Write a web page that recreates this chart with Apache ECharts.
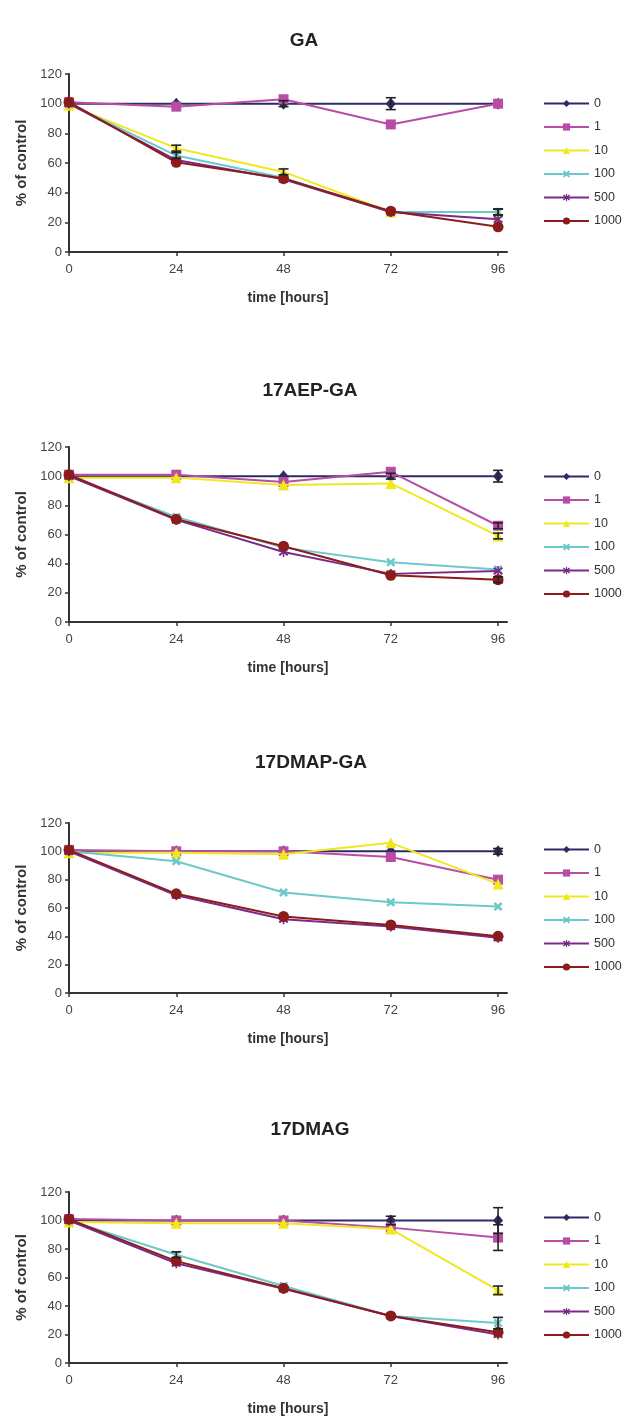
<!DOCTYPE html>
<html>
<head>
<meta charset="utf-8">
<script src="https://cdn.jsdelivr.net/npm/echarts@6/dist/echarts.min.js"></script>
<style>
html,body{margin:0;padding:0;background:#fff;}
#chart{width:635px;height:1419px;}
</style>
</head>
<body>
<div id="chart"></div>
<script>
// ---------- DATA ----------
const titles = ['GA', '17AEP-GA', '17DMAP-GA', '17DMAG'];
const seriesNames = ['0', '1', '10', '100', '500', '1000'];
const times = [0, 24, 48, 72, 96];
const xTickLabels = [0, 24, 48, 72, 96];
const yTicks = [0, 20, 40, 60, 80, 100, 120];

// values per series (rows: 0,1,10,100,500,1000) at times
const GA_values = [
  [100, 100, 100, 100, 100],
  [101, 98, 103, 86, 100],
  [99, 70, 54, 27, 27],
  [100, 65, 50, 27, 27],
  [100, 62, 49, 27, 22],
  [101, 60.5, 49.5, 27.5, 17]
];
const GA_errors = [
  [1, 1, 2, 4, 1],
  [1, 1, 1, 1, 1],
  [1, 2, 2, 1, 2],
  [1, 2, 1, 1, 2],
  [1, 1, 1, 1, 1],
  [1, 1, 1, 1, 1]
];
const AEP_values = [
  [100, 100, 100, 100, 100],
  [101, 101, 96, 103, 66],
  [99, 99, 94, 95, 59],
  [100, 72, 51, 41, 36],
  [100, 70, 48, 33, 35],
  [101, 70.5, 52, 32, 29]
];
const AEP_errors = [
  [1, 1, 1, 2, 4],
  [1, 1, 1, 1, 2],
  [1, 1, 1, 1, 2],
  [1, 1, 1, 1, 1],
  [1, 1, 1, 1, 1],
  [1, 1, 1, 1, 2]
];
const DMAP_values = [
  [100, 100, 100, 100, 100],
  [101, 100, 100, 96, 80],
  [99, 99, 98, 106, 77],
  [100, 93, 71, 64, 61],
  [100, 69, 52, 47, 39],
  [101, 70, 54, 48, 40]
];
const DMAP_errors = [
  [1, 1, 1, 1, 2],
  [1, 1, 1, 1, 1],
  [1, 1, 1, 1, 1],
  [1, 1, 1, 1, 1],
  [1, 1, 1, 1, 1],
  [1, 1, 1, 1, 1]
];
const DMAG_values = [
  [100, 100, 100, 100, 100],
  [101, 100, 100, 95, 88],
  [99, 98, 98, 94, 51],
  [100, 76, 54, 33, 28],
  [100, 70, 52, 33, 20],
  [101, 71.5, 52.5, 33, 21.5]
];
const DMAG_errors = [
  [1, 1, 1, 3, 9],
  [1, 1, 1, 1, 9],
  [1, 1, 1, 1, 3],
  [1, 2, 1, 1, 4],
  [1, 1, 1, 1, 1],
  [1, 1, 1, 1, 1]
];
const panelValues = [GA_values, AEP_values, DMAP_values, DMAG_values];
const panelErrors = [GA_errors, AEP_errors, DMAP_errors, DMAG_errors];

// ---------- STYLE ----------
const FONT = '"Liberation Sans", Arial, sans-serif';
const colors = ['#2D2A66', '#B84DA6', '#F0E81E', '#6CC9C9', '#7A2A8A', '#8C1C1C'];
const xPath = 'path://M0,2 L2,0 L5,3 L8,0 L10,2 L7,5 L10,8 L8,10 L5,7 L2,10 L0,8 L3,5 Z';
const starPath = 'path://M0,2.5 L1.5,1 L5,4 L8.5,1 L10,2.5 L6.5,5 L10,7.5 L8.5,9 L5,6 L1.5,9 L0,7.5 L3.5,5 Z M4.2,0 L5.8,0 L5.8,10 L4.2,10 Z';
const symbols = ['diamond', 'rect', 'triangle', xPath, starPath, 'circle'];
const symbolSizes = [[10, 12], 10, 11, 9, 10, 11];

const layout = [
  {top: 74, height: 178, titleY: 42, legendTop: 97, titleX: 304},
  {top: 447, height: 175, titleY: 392, legendTop: 470, titleX: 310},
  {top: 823, height: 170, titleY: 764, legendTop: 843, titleX: 311},
  {top: 1192, height: 171, titleY: 1131, legendTop: 1211, titleX: 310}
];

const option = {
  backgroundColor: '#fff',
  animation: false,
  textStyle: {fontFamily: FONT},
  title: [], legend: [], grid: [], xAxis: [], yAxis: [], series: []
};

function errRender(params, api) {
  const x = api.value(0), v = api.value(1), e = api.value(2);
  if (!e || e < 1.5) return null;
  const t = api.coord([x, v + e]);
  const b = api.coord([x, v - e]);
  const hw = 5;
  const st = {stroke: '#222', lineWidth: 1.6};
  return {
    type: 'group',
    children: [
      {type: 'line', shape: {x1: t[0], y1: t[1], x2: b[0], y2: b[1]}, style: st},
      {type: 'line', shape: {x1: t[0] - hw, y1: t[1], x2: t[0] + hw, y2: t[1]}, style: st},
      {type: 'line', shape: {x1: b[0] - hw, y1: b[1], x2: b[0] + hw, y2: b[1]}, style: st}
    ]
  };
}

layout.forEach((L, p) => {
  option.title.push({
    text: titles[p], left: L.titleX, top: L.titleY - 11, textAlign: 'center', padding: 0,
    textStyle: {fontSize: 19, fontWeight: 'bold', color: '#222', fontFamily: FONT}
  });
  option.grid.push({left: 69, width: 438, top: L.top, height: L.height});
  option.xAxis.push({
    type: 'value', gridIndex: p, min: 0, max: 98,
    name: 'time [hours]', nameLocation: 'middle', nameGap: 39,
    nameTextStyle: {fontSize: 14, fontWeight: 'bold', color: '#333', fontFamily: FONT},
    axisLine: {lineStyle: {color: '#333', width: 2}},
    axisTick: {customValues: xTickLabels, length: 4, lineStyle: {color: '#333', width: 1.5}},
    axisLabel: {customValues: xTickLabels, fontSize: 13, color: '#444', margin: 11, fontFamily: FONT},
    splitLine: {show: false}
  });
  option.yAxis.push({
    type: 'value', gridIndex: p, min: 0, max: 120, interval: 20,
    name: '% of control', nameLocation: 'middle', nameGap: 39,
    nameTextStyle: {fontSize: 15, fontWeight: 'bold', color: '#333', fontFamily: FONT},
    axisLine: {show: true, lineStyle: {color: '#333', width: 2}},
    axisTick: {show: true, length: 4, lineStyle: {color: '#333', width: 1.5}},
    axisLabel: {fontSize: 13, color: '#444', margin: 7, fontFamily: FONT},
    splitLine: {show: false}
  });
  option.legend.push({
    orient: 'vertical', left: 543, top: L.legendTop,
    itemWidth: 45, itemHeight: 9, itemGap: 10.5, padding: 0,
    data: seriesNames,
    textStyle: {fontSize: 12.5, color: '#333', fontFamily: FONT}
  });
  const vals = panelValues[p], errs = panelErrors[p];
  seriesNames.forEach((nm, s) => {
    option.series.push({
      type: 'line', name: nm, xAxisIndex: p, yAxisIndex: p,
      data: times.map((t, i) => [t, vals[s][i]]),
      symbol: symbols[s], symbolSize: symbolSizes[s],
      showAllSymbol: true,
      lineStyle: {color: colors[s], width: 2},
      itemStyle: {color: colors[s]},
      z: 2 + s
    });
  });
  seriesNames.forEach((nm, s) => {
    option.series.push({
      type: 'custom', name: 'err' + p + '_' + s, xAxisIndex: p, yAxisIndex: p,
      data: times.map((t, i) => [t, vals[s][i], errs[s][i]]),
      encode: {x: 0, y: 1},
      renderItem: errRender, z: 20, silent: true
    });
  });
});

const chart = echarts.init(document.getElementById('chart'), null, {renderer: 'canvas'});
chart.setOption(option);
</script>
</body>
</html>
